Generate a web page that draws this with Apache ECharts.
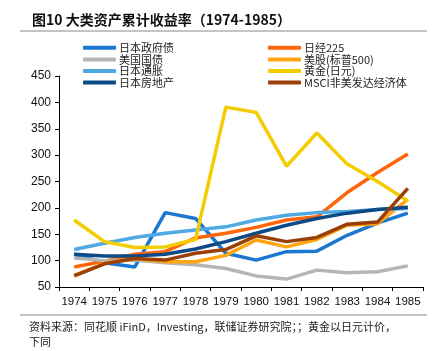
<!DOCTYPE html>
<html>
<head>
<meta charset="utf-8">
<script src="https://cdn.jsdelivr.net/npm/echarts@6/dist/echarts.min.js"></script>
<style>
html,body{margin:0;padding:0;background:#fff;}
#mainChart{width:448px;height:351px;}
</style>
</head>
<body>
<div id="mainChart"></div>
<script>
var years = ['1974','1975','1976','1977','1978','1979','1980','1981','1982','1983','1984','1985'];
var jpGov   = [112, 96, 88, 191, 180, 114, 101, 117, 118, 148, 171, 190];
var nikkei  = [88, 99, 112, 117, 143, 152, 163, 177, 183, 229, 267, 302];
var usTreas = [105, 100, 101, 96, 92, 85, 71, 65, 82, 77, 79, 90];
var sp500   = [72, 95, 104, 98, 98, 110, 139, 126, 140, 167, 170, 216];
var jpCpi   = [121, 133, 144, 152, 158, 164, 177, 186, 191, 193, 197, 199];
var gold    = [177, 136, 125, 126, 140, 391, 381, 279, 342, 283, 250, 213];
var jpRe    = [112, 109, 109, 112, 122, 136, 152, 167, 180, 190, 197, 201];
var msci    = [71, 94, 104, 101, 114, 121, 147, 136, 144, 169, 173, 237];

var cjk = '"Noto Sans CJK SC", sans-serif';
var myChart = echarts.init(document.getElementById('mainChart'));

function mk(name, data, color) {
    return {
        name: name, type: 'line', data: data,
        symbol: 'none', smooth: false,
        lineStyle: {color: color, width: 3.5},
        itemStyle: {color: color}
    };
}

var legendCommon = {
    orient: 'vertical', top: 37, itemWidth: 33, itemHeight: 4, itemGap: 0,
    icon: 'roundRect',
    textStyle: {fontFamily: cjk, fontSize: 11, color: '#222', lineHeight: 11.6, padding: [0, 0, 0, -2]}
};

var option = {
    animation: false,
    title: {
        text: '图10 大类资产累计收益率（1974-1985）',
        left: 27, top: 8,
        textStyle: {fontFamily: cjk, fontSize: 14, fontWeight: 'bold', color: '#111'}
    },
    graphic: [
        {type: 'line', shape: {x1: 20, y1: 31, x2: 427, y2: 31}, style: {stroke: '#888', lineWidth: 1}},
        {type: 'line', shape: {x1: 20, y1: 315, x2: 427, y2: 315}, style: {stroke: '#888', lineWidth: 1}},
        {type: 'text', left: 29, top: 319, style: {
            text: '资料来源：同花顺 iFinD，Investing，联储证券研究院；；黄金以日元计价，\n下同',
            font: '11px "Noto Sans CJK SC", sans-serif', fill: '#222', lineHeight: 15}}
    ],
    legend: [
        echarts.util.extend({left: 78, data: ['日本政府债', '美国国债', '日本通胀', '日本房地产']}, legendCommon),
        echarts.util.extend({left: 263, data: ['日经225', '美股(标普500)', '黄金(日元)', 'MSCI非美发达经济体']}, legendCommon)
    ],
    grid: {left: 59, right: 25, top: 76, bottom: 64},
    xAxis: {
        type: 'category', data: years, boundaryGap: true,
        axisLine: {lineStyle: {color: '#000'}},
        axisTick: {show: true, length: 4, interval: 0, lineStyle: {color: '#000'}},
        axisLabel: {interval: 0, color: '#111', fontSize: 11.5, fontFamily: 'Arial, "Liberation Sans", sans-serif', margin: 9}
    },
    yAxis: {
        type: 'value', min: 50, max: 450, interval: 50,
        axisLine: {show: true, lineStyle: {color: '#000'}},
        axisTick: {show: true, length: 4, lineStyle: {color: '#000'}},
        splitLine: {show: false},
        axisLabel: {color: '#111', fontSize: 12, fontFamily: 'Arial, "Liberation Sans", sans-serif', margin: 8}
    },
    series: [
        mk('日本政府债', jpGov, '#1a78d2'),
        mk('日经225', nikkei, '#ff650a'),
        mk('美国国债', usTreas, '#b5b5b5'),
        mk('美股(标普500)', sp500, '#ffa50f'),
        mk('日本通胀', jpCpi, '#4fa9e2'),
        mk('黄金(日元)', gold, '#f4cc00'),
        mk('日本房地产', jpRe, '#0c4a85'),
        mk('MSCI非美发达经济体', msci, '#9a3f06')
    ]
};
myChart.setOption(option);
</script>
</body>
</html>
